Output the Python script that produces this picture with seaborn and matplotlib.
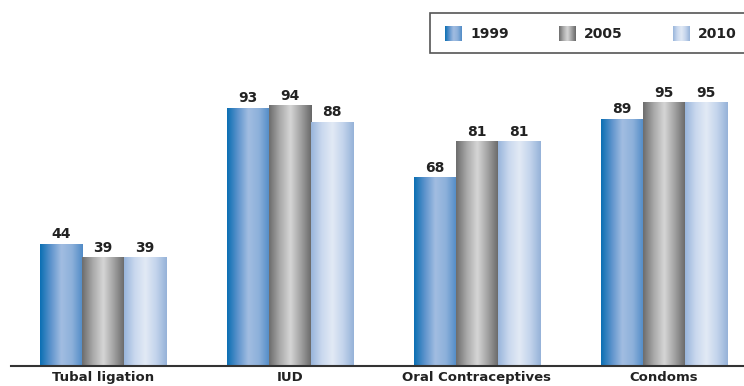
import numpy as np
import pandas as pd
import matplotlib
matplotlib.use("Agg")
import matplotlib.pyplot as plt
import seaborn as sns
from matplotlib.colors import LinearSegmentedColormap
from matplotlib.patches import Rectangle

# data
methods = ["Tubal ligation", "IUD", "Oral Contraceptives", "Condoms"]
years = ["1999", "2005", "2010"]
v1999 = [44, 93, 68, 89]
v2005 = [39, 94, 81, 95]
v2010 = [39, 88, 81, 95]

df = pd.DataFrame({
    "method": methods * 3,
    "year": [y for y in years for _ in methods],
    "value": v1999 + v2005 + v2010,
})

# horizontal gradients, one per year (left -> middle -> right)
grad_colors = {
    "1999": ["#0a6fb3", "#5d93cc", "#a2bde1", "#8cb0da", "#4f8ac6"],
    "2005": ["#6c6c6c", "#a8a8a8", "#d6d6d6", "#a0a0a0", "#666666"],
    "2010": ["#98b5db", "#c9d8ee", "#e2eaf5", "#c3d4ec", "#95b2d8"],
}
cmaps = {y: LinearSegmentedColormap.from_list(y, c) for y, c in grad_colors.items()}
grad = np.linspace(0, 1, 256).reshape(1, -1)

sns.set_style("white")
plt.rcParams["font.family"] = ["DejaVu Sans"]

fig = plt.figure(figsize=(7.44, 3.86), dpi=100)
ax = fig.add_axes([11 / 744, 20 / 386, 1 - 11 / 744, 1 - 20 / 386])

sns.barplot(data=df, x="method", y="value", hue="year", hue_order=years,
            width=0.674, ax=ax, legend=False, saturation=1)

for year, cont in zip(years, ax.containers):
    for bar in cont:
        x, w, h = bar.get_x(), bar.get_width(), bar.get_height()
        ax.imshow(grad, cmap=cmaps[year], extent=[x, x + w, 0, h],
                  aspect="auto", zorder=2, interpolation="bicubic")
        bar.set_visible(False)
    ax.bar_label(cont, labels=[f"{v:.0f}" for v in cont.datavalues], padding=2,
                 fontsize=10, fontweight="bold", color="#222222")

ax.set_xlim(-0.492, 3.428)
ax.set_ylim(0, 132)
ax.set_xlabel("")
ax.set_ylabel("")
ax.set_yticks([])
ax.tick_params(axis="x", length=0, pad=3.5, labelsize=9.5, labelcolor="#222222")
for lab in ax.get_xticklabels():
    lab.set_fontweight("bold")
for side in ["left", "top", "right"]:
    ax.spines[side].set_visible(False)
ax.spines["bottom"].set_color("#333333")
ax.spines["bottom"].set_linewidth(1.5)

# legend box, drawn by hand so the swatches can carry the gradients
fig.patches.append(Rectangle((430 / 744, 1 - 53 / 386), 0.5, 40 / 386,
                             transform=fig.transFigure, facecolor="white",
                             edgecolor="#555555", linewidth=1.2, zorder=5))
for i, year in enumerate(years):
    sx = (445 + i * 114) / 744
    sw = fig.add_axes([sx, 1 - 41 / 386, 17 / 744, 15 / 386], zorder=6)
    sw.imshow(grad, cmap=cmaps[year], aspect="auto", interpolation="bicubic")
    sw.set_axis_off()
    fig.text(sx + 25 / 744, 1 - 33.5 / 386, year, fontsize=10, fontweight="bold",
             color="#222222", va="center", ha="left", zorder=7)

fig.savefig("out.png", dpi=100)
